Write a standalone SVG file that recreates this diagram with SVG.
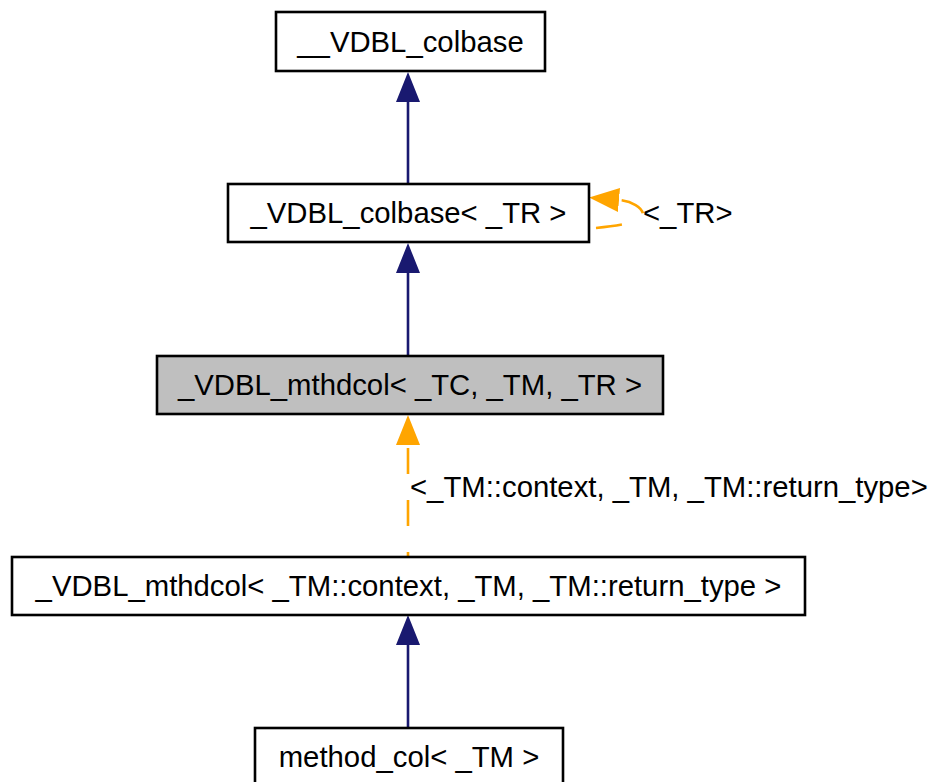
<svg xmlns="http://www.w3.org/2000/svg" width="934" height="782" viewBox="0 0 934 782">
<style>
.box{fill:#ffffff;stroke:#000000;stroke-width:2.6}
.sel{fill:#bfbfbf}
.lbl{font-family:"Liberation Sans",Helvetica,Arial,sans-serif;font-size:29.3px;fill:#000000;text-anchor:middle}
.elbl{font-family:"Liberation Sans",Helvetica,Arial,sans-serif;font-size:29.3px;fill:#000000}
.inh{fill:none;stroke:#191970;stroke-width:2.6;marker-end:url(#ab)}
.tpl{fill:none;stroke:#ffa500;stroke-width:2.6;stroke-dasharray:26,26;marker-end:url(#ao)}
</style>
<defs>
<marker id="ab" viewBox="0 0 30 24" refX="0" refY="12" markerWidth="30" markerHeight="24" markerUnits="userSpaceOnUse" orient="auto"><polygon points="0,0 30,12 0,24" fill="#191970"/></marker>
<marker id="ao" viewBox="0 0 30 24" refX="0" refY="12" markerWidth="30" markerHeight="24" markerUnits="userSpaceOnUse" orient="auto"><polygon points="0,0 30,12 0,24" fill="#ffa500"/></marker>
</defs>
<rect width="934" height="782" fill="#ffffff"/>
<g id="edges">
<path class="inh" d="M408,184 L408,102"/>
<path class="inh" d="M408,356 L408,273"/>
<path class="tpl" d="M408,557 L408,445" stroke-dashoffset="21"/>
<path class="inh" d="M408,728 L408,645"/>
<path class="tpl" d="M596,228 C626,225 644,221 643,214 C642,207 631,201 619,200"/>
<text class="elbl" x="643" y="223">&lt;_TR&gt;</text>
<text class="elbl" x="410" y="497">&lt;_TM::context, _TM, _TM::return_type&gt;</text>
</g>
<g id="n1"><rect class="box" x="276" y="12" width="269" height="59"/><text class="lbl" x="410.5" y="52">__VDBL_colbase</text></g>
<g id="n2"><rect class="box" x="228" y="184" width="361" height="58"/><text class="lbl" x="408.5" y="223">_VDBL_colbase&lt; _TR &gt;</text></g>
<g id="n3"><rect class="box sel" x="157" y="356" width="506" height="58"/><text class="lbl" x="410" y="395">_VDBL_mthdcol&lt; _TC, _TM, _TR &gt;</text></g>
<g id="n4"><rect class="box" x="12" y="557" width="793" height="58"/><text class="lbl" x="408.5" y="596">_VDBL_mthdcol&lt; _TM::context, _TM, _TM::return_type &gt;</text></g>
<g id="n5"><rect class="box" x="255" y="728" width="308" height="58"/><text class="lbl" x="409" y="767">method_col&lt; _TM &gt;</text></g>
</svg>
